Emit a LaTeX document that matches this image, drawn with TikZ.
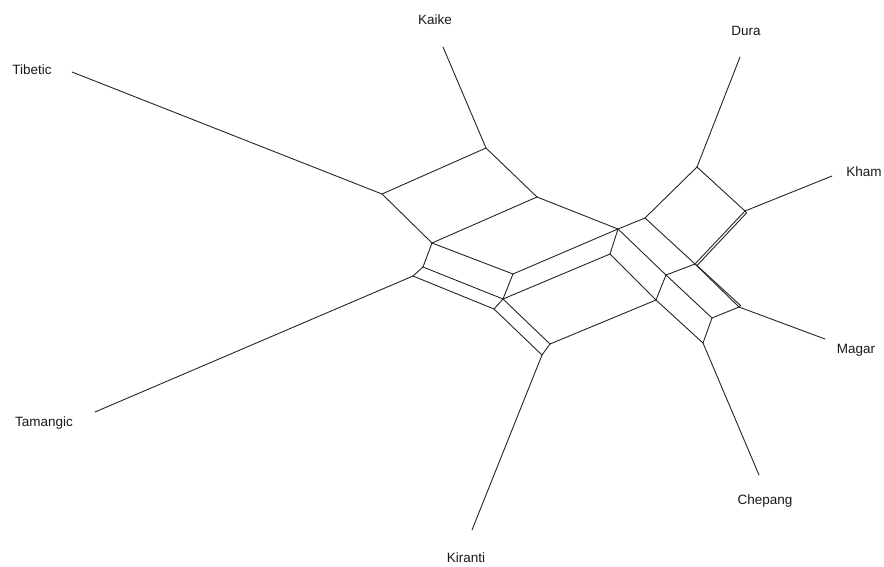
\documentclass[tikz,border=0pt]{standalone}
\usepackage{fontspec}
\setmainfont{Liberation Sans}
\begin{document}
\begin{tikzpicture}[x=1pt,y=-1pt,
  edge/.style={draw=black!85,line width=0.9pt,line cap=round,line join=round},
  taxon/.style={font=\fontsize{13.5}{15}\selectfont,text=black!90,inner sep=0pt}]
\useasboundingbox[fill=white] (0,0) rectangle (884,566);
% leaf ends
\coordinate (lTib) at (72,72);
\coordinate (lKai) at (443,47);
\coordinate (lDur) at (740,57);
\coordinate (lKha) at (832,176);
\coordinate (lMag) at (825,339);
\coordinate (lChe) at (759,475);
\coordinate (lKir) at (472,530);
\coordinate (lTam) at (95,412);
% internal vertices
\coordinate (T1) at (382,194);
\coordinate (K1) at (486,148);
\coordinate (K2) at (537,197);
\coordinate (C1) at (432,243);
\coordinate (C2) at (423,267);
\coordinate (Tm) at (413,276);
\coordinate (D1) at (513,274);
\coordinate (D2) at (503,299);
\coordinate (D3) at (494,309);
\coordinate (E1) at (550,344);
\coordinate (Ki) at (542,355);
\coordinate (F1) at (618,229);
\coordinate (F2) at (610,254);
\coordinate (G1) at (645,218);
\coordinate (Du) at (697,167);
\coordinate (Kh) at (745,211);
\coordinate (Khb) at (746.5,213);
\coordinate (H1) at (695,264);
\coordinate (H1b) at (697,265.5);
\coordinate (I1) at (666,275);
\coordinate (J1) at (656,300);
\coordinate (M1) at (712,318);
\coordinate (Mg) at (739,307);
\coordinate (Mgb) at (740.5,305.5);
\coordinate (Ch) at (703,343);
% labels
\node[taxon] (Tibetic) at (32,70) {Tibetic};
\node[taxon] (Kaike) at (435,20) {Kaike};
\node[taxon] (Dura) at (746,31) {Dura};
\node[taxon] (Kham) at (864,172) {Kham};
\node[taxon] (Magar) at (856,350) {Magar};
\node[taxon] (Chepang) at (765,501) {Chepang};
\node[taxon] (Kiranti) at (466,558) {Kiranti};
\node[taxon] (Tamangic) at (44,423) {Tamangic};
% edges
\draw[edge] (lTib) -- (T1);
\draw[edge] (lKai) -- (K1);
\draw[edge] (lDur) -- (Du);
\draw[edge] (lKha) -- (Kh);
\draw[edge] (lMag) -- (Mg);
\draw[edge] (lChe) -- (Ch);
\draw[edge] (lKir) -- (Ki);
\draw[edge] (lTam) -- (Tm);
\draw[edge] (T1) -- (K1);
\draw[edge] (T1) -- (C1);
\draw[edge] (K1) -- (K2);
\draw[edge] (K2) -- (C1);
\draw[edge] (K2) -- (F1);
\draw[edge] (C1) -- (C2);
\draw[edge] (C1) -- (D1);
\draw[edge] (C2) -- (Tm);
\draw[edge] (C2) -- (D2);
\draw[edge] (Tm) -- (D3);
\draw[edge] (D1) -- (D2);
\draw[edge] (D1) -- (F1);
\draw[edge] (D2) -- (D3);
\draw[edge] (D2) -- (F2);
\draw[edge] (D2) -- (E1);
\draw[edge] (D3) -- (Ki);
\draw[edge] (E1) -- (Ki);
\draw[edge] (E1) -- (J1);
\draw[edge] (F1) -- (F2);
\draw[edge] (F1) -- (G1);
\draw[edge] (F1) -- (I1);
\draw[edge] (F2) -- (J1);
\draw[edge] (G1) -- (Du);
\draw[edge] (G1) -- (H1);
\draw[edge] (Du) -- (Kh);
\draw[edge] (Kh) -- (H1);
\draw[edge] (Khb) -- (H1b);
\draw[edge] (Kh) -- (Khb);
\draw[edge] (H1) -- (H1b);
\draw[edge] (H1) -- (I1);
\draw[edge] (H1) -- (Mg);
\draw[edge] (H1b) -- (Mgb);
\draw[edge] (Mg) -- (Mgb);
\draw[edge] (I1) -- (J1);
\draw[edge] (I1) -- (M1);
\draw[edge] (J1) -- (Ch);
\draw[edge] (M1) -- (Mg);
\draw[edge] (M1) -- (Ch);
\end{tikzpicture}
\end{document}
